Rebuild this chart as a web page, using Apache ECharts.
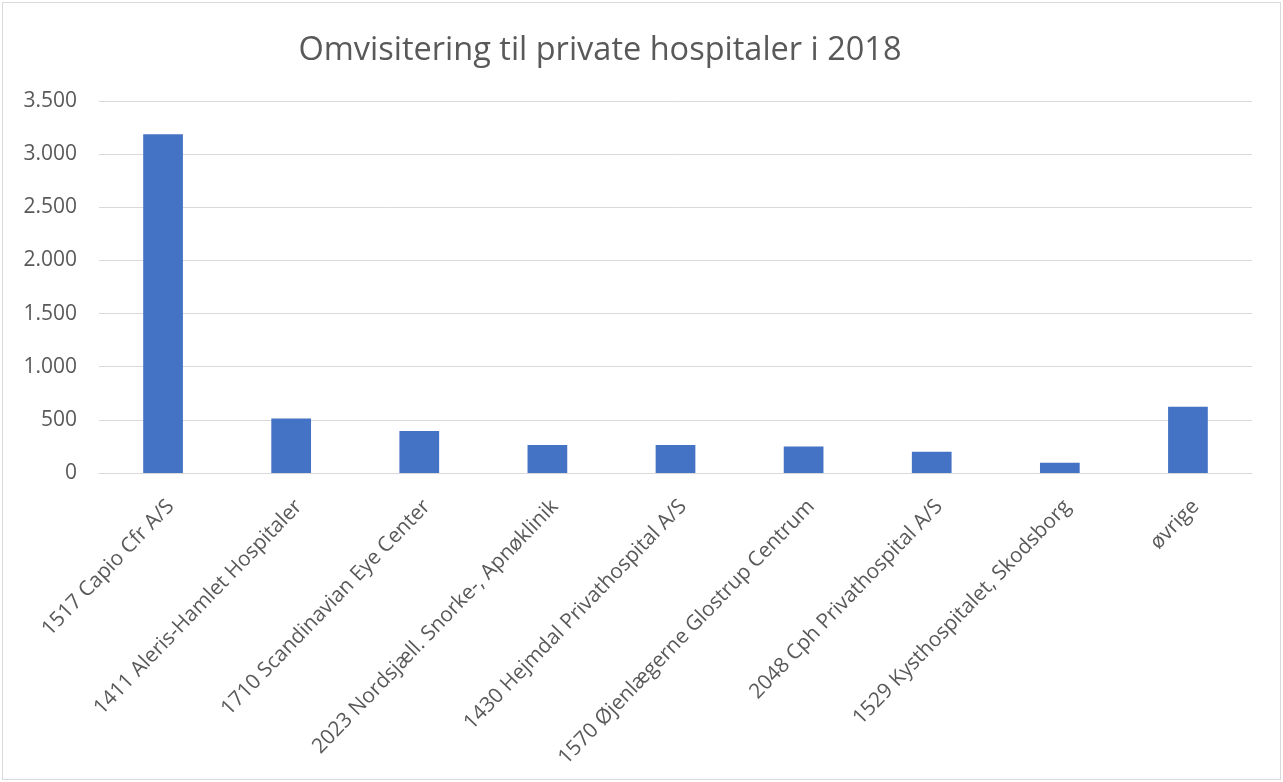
<!DOCTYPE html>
<html>
<head>
<meta charset="utf-8">
<script src="https://cdn.jsdelivr.net/npm/echarts@6/dist/echarts.min.js"></script>
<style>
  html, body { margin: 0; padding: 0; background: #fff; }
  #chart {
    position: absolute; left: 2px; top: 2px;
    width: 1277px; height: 776px;
    border: 1px solid #d9d9d9;
  }
</style>
</head>
<body>
<div id="chart"></div>
<script>
// categories and values
const hospitals = [
  "1517 Capio Cfr A/S",
  "1411 Aleris-Hamlet Hospitaler",
  "1710 Scandinavian Eye Center",
  "2023 Nordsjæll. Snorke-, Apnøklinik",
  "1430 Hejmdal Privathospital A/S",
  "1570 Øjenlægerne Glostrup Centrum",
  "2048 Cph Privathospital A/S",
  "1529 Kysthospitalet, Skodsborg",
  "øvrige"
];
const omvisiteringer = [3187, 513, 395, 263, 263, 250, 200, 97, 623];

const fontFamily = "'Open Sans', 'Noto Sans', sans-serif";
const textColor = "#595959";

// 3.500-style thousands separator
function fmtDa(v) {
  return String(v).replace(/\B(?=(\d{3})+(?!\d))/g, ".");
}

const chart = echarts.init(document.getElementById("chart"));
chart.setOption({
  animation: false,
  title: {
    text: "Omvisitering til private hospitaler i 2018",
    left: 592,
    top: 26,
    textAlign: "center",
    textStyle: {
      color: textColor,
      fontFamily: fontFamily,
      fontSize: 32.5,
      fontWeight: "normal"
    }
  },
  grid: { left: 96, right: 28, top: 98, bottom: 306 },
  xAxis: {
    type: "category",
    data: hospitals,
    axisLine: { lineStyle: { color: "#d9d9d9", width: 1 } },
    axisTick: { show: false },
    axisLabel: {
      rotate: 46,
      interval: 0,
      margin: 23,
      verticalAlign: "top",
      color: textColor,
      fontFamily: fontFamily,
      fontSize: 20.8
    }
  },
  yAxis: {
    type: "value",
    min: 0,
    max: 3500,
    interval: 500,
    axisLine: { show: false },
    axisTick: { show: false },
    splitLine: { lineStyle: { color: "#d9d9d9", width: 1 } },
    axisLabel: {
      margin: 22,
      color: textColor,
      fontFamily: fontFamily,
      fontSize: 21,
      formatter: fmtDa
    }
  },
  series: [
    {
      type: "bar",
      data: omvisiteringer,
      barWidth: "31%",
      itemStyle: { color: "#4472C4" }
    }
  ]
});
</script>
</body>
</html>
